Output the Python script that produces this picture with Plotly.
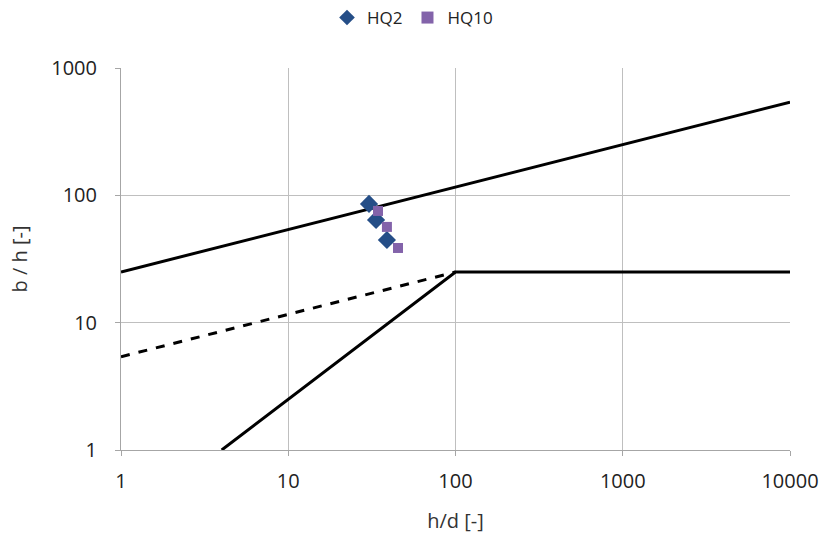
import plotly.graph_objects as go

# Data
hq2_x = [30.4, 33.5, 38.9]
hq2_y = [85.6, 64.1, 44.6]
hq10_x = [34.4, 38.9, 45.3]
hq10_y = [75.4, 56.5, 38.6]

upper_x = [1, 10000]
upper_y = [25, 540]
dashed_x = [1, 100]
dashed_y = [5.4, 25]
lower_x = [4, 100, 10000]
lower_y = [1, 25, 25]

tick_vals = [1, 10, 100, 1000, 10000]
tick_text = ["1", "10", "100", "1000", "10000"]
ytick_vals = [1, 10, 100, 1000]
ytick_text = ["1", "10", "100", "1000"]

font_family = "Open Sans, Liberation Sans, sans-serif"

fig = go.Figure()
fig.add_trace(go.Scatter(x=upper_x, y=upper_y, mode="lines",
                         line=dict(color="black", width=3), showlegend=False))
fig.add_trace(go.Scatter(x=dashed_x, y=dashed_y, mode="lines",
                         line=dict(color="black", width=3, dash="dash"), showlegend=False))
fig.add_trace(go.Scatter(x=lower_x, y=lower_y, mode="lines",
                         line=dict(color="black", width=3), showlegend=False))
fig.add_trace(go.Scatter(x=hq2_x, y=hq2_y, mode="markers", name="HQ2",
                         marker=dict(symbol="diamond", size=14, color="#254E87")))
fig.add_trace(go.Scatter(x=hq10_x, y=hq10_y, mode="markers", name="HQ10",
                         marker=dict(symbol="square", size=10, color="#8363AA")))

axis_common = dict(
    showgrid=True, gridcolor="#BFBFBF", gridwidth=1,
    showline=True, linecolor="#A6A6A6", linewidth=1, mirror=False,
    ticks="outside", ticklen=5, tickcolor="#A6A6A6",
    tickfont=dict(size=20, color="#222222", family=font_family),
    zeroline=False, automargin=False, ticklabeloverflow="allow",
)

fig.update_xaxes(type="log", range=[0, 4], tickvals=tick_vals, ticktext=tick_text,
                 ticklabelstandoff=8,
                 title=dict(text="h/d [-]", font=dict(size=20, color="#333333", family=font_family), standoff=20),
                 **axis_common)
fig.update_yaxes(type="log", range=[0, 3], tickvals=ytick_vals, ticktext=ytick_text,
                 ticklabelstandoff=14,
                 title=dict(text="b / h [-]", font=dict(size=20, color="#333333", family=font_family), standoff=18),
                 **axis_common)

fig.update_layout(
    width=825, height=538,
    margin=dict(l=121, r=35, t=68, b=88),
    paper_bgcolor="white", plot_bgcolor="white",
    font=dict(family=font_family, color="#333333"),
    legend=dict(orientation="h", xref="container", x=0.5, xanchor="center", y=1.0, yanchor="top",
                yref="container", font=dict(size=17, color="#222222"), itemsizing="constant",
                tracegroupgap=0, itemwidth=30),
)

fig.write_html("out.html", config={"displayModeBar": False},
               post_script="document.body.style.margin='0';document.body.style.overflow='hidden';")
